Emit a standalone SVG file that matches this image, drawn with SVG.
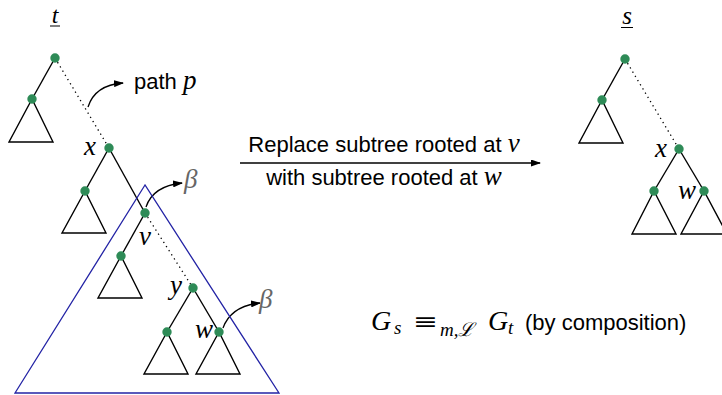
<svg xmlns="http://www.w3.org/2000/svg" width="722" height="395" viewBox="0 0 722 395">
<defs>
<marker id="arr" markerWidth="10" markerHeight="7" refX="9" refY="3.5" orient="auto" markerUnits="userSpaceOnUse">
<path d="M0,0 L10,3.5 L0,7 z" fill="#000"/>
</marker>
<style>
.e{stroke:#000;stroke-width:1.4;fill:none}
.d{stroke:#000;stroke-width:1.3;fill:none;stroke-dasharray:1.3 3.6}
.tri{stroke:#000;stroke-width:1.4;fill:none;stroke-linejoin:miter}
.dot{fill:#2e8b57}
.m{font-family:"Liberation Serif","DejaVu Serif",serif;font-style:italic;font-size:27px;fill:#000}
.sub{font-family:"Liberation Serif","DejaVu Serif",serif;font-style:italic;font-size:19px;fill:#000}
.b{font-family:"Liberation Serif","DejaVu Serif",serif;font-style:italic;font-size:27px;fill:#666}
.s{font-family:"Liberation Sans","DejaVu Sans",sans-serif;font-size:22px;fill:#000}
.c{stroke:#000;stroke-width:1.3;fill:none}
</style>
</defs>
<rect width="722" height="395" fill="#fff"/>

<g id="connectors">
<line class="e" x1="55" y1="58" x2="32" y2="99"/>
<line class="d" x1="55" y1="58" x2="109" y2="148"/>
<line class="e" x1="109" y1="148" x2="85" y2="191"/>
<line class="e" x1="109" y1="148" x2="145" y2="213"/>
<line class="e" x1="145" y1="213" x2="121" y2="256"/>
<line class="d" x1="145" y1="213" x2="193" y2="288"/>
<line class="e" x1="193" y1="288" x2="167" y2="332"/>
<line class="e" x1="193" y1="288" x2="219" y2="332"/>
<line class="e" x1="625" y1="59" x2="602" y2="100"/>
<line class="d" x1="625" y1="59" x2="679" y2="149"/>
<line class="e" x1="679" y1="149" x2="654" y2="191"/>
<line class="e" x1="679" y1="149" x2="704" y2="191"/>
<path class="c" d="M88,107 Q95,85 123,83" marker-end="url(#arr)"/>
<path class="c" d="M146,207 Q153,186 182,183" marker-end="url(#arr)"/>
<path class="c" d="M223,328 Q231,306 260,303" marker-end="url(#arr)"/>
<line class="c" x1="240" y1="163" x2="540" y2="163" marker-end="url(#arr)"/>
</g>

<g id="beta-region">
<polygon points="145,185 15,393 279,393" fill="none" stroke="#2323a5" stroke-width="1.3"/>
</g>

<g id="t-label">
<text class="m" x="55" y="23" text-anchor="middle" style="font-size:24px">t</text>
<line x1="50" y1="26" x2="60" y2="26" stroke="#000" stroke-width="1"/>
</g>
<g id="t-root"><circle class="dot" cx="55" cy="58" r="4.7"/></g>
<g id="t-left"><polygon class="tri" points="32,99 9,142 53,142"/><circle class="dot" cx="32" cy="99" r="4.7"/></g>
<g id="t-x"><circle class="dot" cx="109" cy="148" r="4.7"/><text class="m" x="84" y="155">x</text></g>
<g id="t-x-left"><polygon class="tri" points="85,191 62,233 106,233"/><circle class="dot" cx="85" cy="191" r="4.7"/></g>
<g id="t-v"><circle class="dot" cx="145" cy="213" r="4.7"/><text class="m" x="139" y="245">v</text></g>
<g id="t-v-left"><polygon class="tri" points="121,256 98,298 142,298"/><circle class="dot" cx="121" cy="256" r="4.7"/></g>
<g id="t-y"><circle class="dot" cx="193" cy="288" r="4.7"/><text class="m" x="170" y="294">y</text></g>
<g id="t-y-left"><polygon class="tri" points="167,332 144,374 188,374"/><circle class="dot" cx="167" cy="332" r="4.7"/></g>
<g id="t-w"><polygon class="tri" points="219,332 196,374 240,374"/><circle class="dot" cx="219" cy="332" r="4.7"/><text class="m" x="195" y="338">w</text></g>
<g id="path-label"><text class="s" x="134" y="89">path <tspan class="m">p</tspan></text></g>
<g id="beta1"><text class="b" x="184" y="188">β</text></g>
<g id="beta2"><text class="b" x="259" y="308">β</text></g>

<g id="s-label">
<text class="m" x="627" y="24" text-anchor="middle" style="font-size:25px">s</text>
<line x1="621" y1="27.5" x2="633" y2="27.5" stroke="#000" stroke-width="1"/>
</g>
<g id="s-root"><circle class="dot" cx="625" cy="59" r="4.7"/></g>
<g id="s-left"><polygon class="tri" points="602,100 579,143 623,143"/><circle class="dot" cx="602" cy="100" r="4.7"/></g>
<g id="s-x"><circle class="dot" cx="679" cy="149" r="4.7"/><text class="m" x="655" y="157">x</text></g>
<g id="s-x-left"><polygon class="tri" points="654,191 632,234 676,234"/><circle class="dot" cx="654" cy="191" r="4.7"/></g>
<g id="s-w"><polygon class="tri" points="704,191 681,234 727,234"/><circle class="dot" cx="704" cy="191" r="4.7"/><text class="m" x="678" y="199">w</text></g>

<g id="replace-label">
<text class="s" x="384" y="152" text-anchor="middle">Replace subtree rooted at <tspan class="m">v</tspan></text>
<text class="s" x="384" y="185" text-anchor="middle">with subtree rooted at <tspan class="m">w</tspan></text>
</g>

<g id="formula">
<text class="m" x="371" y="330" style="font-size:28px">G</text>
<text class="sub" x="394" y="334">s</text>
<text x="413" y="329" textLength="25" lengthAdjust="spacingAndGlyphs" style="font-family:'DejaVu Serif','Liberation Serif',serif;font-size:22px">≡</text>
<text class="sub" x="440" y="336">m,ℒ</text>
<text class="m" x="488" y="330" style="font-size:28px">G</text>
<text class="sub" x="508" y="334">t</text>
<text class="s" x="525" y="330">(by composition)</text>
</g>
</svg>
